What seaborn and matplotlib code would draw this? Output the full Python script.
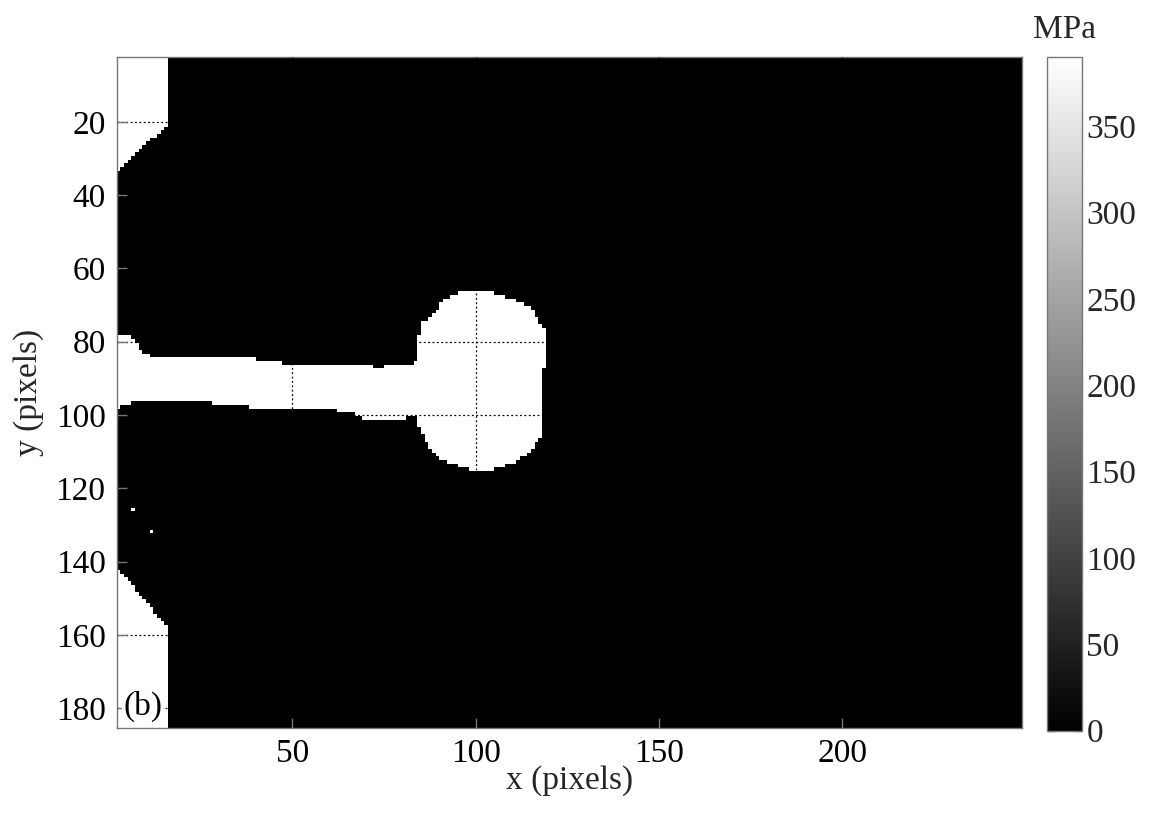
import numpy as np
import matplotlib
matplotlib.use("Agg")
import matplotlib.pyplot as plt
from matplotlib.path import Path
import seaborn as sns

# ---------------- data ----------------
# image extent in pixel coordinates
X_START, Y_START = 2.1, 2.3
N_COLS, N_ROWS = 247, 183
STRESS_HIGH = 390.0      # MPa value of the white (yielded) region
STRESS_LOW = 0.0
CBAR_MAX = 390.0

# boundary of the upper-left white region
top_left_x = [-1, 15.75, 15.75, 14.4, 13.9, 12.5, 11.2, 9.4, 2.1, -1]
top_left_y = [-1, -1, 20.9, 22.1, 23.6, 24.3, 24.8, 26.4, 33.6, 36.5]

# boundary of the lower-left white region
bottom_left_x = [-1, 2.1, 3.5, 4.8, 6.6, 8.0, 10.3, 12.1, 13.9, 15.75, 15.75, -1]
bottom_left_y = [141.0, 141.5, 143.2, 145.0, 146.4, 148.6, 150.9, 153.2, 155.9, 157.7, 190, 190]

# boundary of the crack (channel + blunted tip)
crack_x = [-1, 2.1, 5.7, 7.1, 8.0, 9.4, 11.2, 37.6, 40.3, 43.9, 48.5, 53.9, 66.7, 72.1,
           74.8, 77.6, 83.0, 83.9, 83.9, 84.4, 84.8, 85.7, 88.0, 89.4, 90.3, 93.0, 96.2,
           99.8, 103.0, 106.6, 111.2, 113.9, 116.2, 116.6, 118.5, 118.9, 119.2, 118.0,
           117.6, 118.0, 118.0, 118.3, 116.6, 114.4, 111.2, 107.5, 103.9, 100.3, 96.6,
           93.0, 89.4, 87.6, 85.7, 84.4, 84.4, 84.8, 81.6, 80.3, 70.3, 66.7, 61.2, 53.9,
           42.1, 38.5, 35.7, 24.8, 15.7, 11.2, 7.6, 4.8, 2.1, -1]
crack_y = [78.2, 78.2, 78.6, 79.5, 81.8, 82.7, 83.9, 84.1, 85.0, 85.4, 85.9, 86.1, 86.4, 86.8,
           86.8, 86.4, 86.1, 85.4, 81.3, 80.0, 75.9, 74.5, 73.2, 71.4, 69.5, 67.7, 66.4,
           66.4, 65.9, 67.3, 68.6, 70.0, 71.4, 73.6, 75.9, 79.5, 85.9, 89.5,
           93.2, 96.8, 101.4, 105.9, 107.7, 110.4, 112.7, 114.1, 115.0, 115.2, 114.5,
           113.2, 111.4, 109.5, 105.4, 103.2, 100.9, 100.0, 100.3, 101.4, 101.4, 99.5, 98.6, 98.4,
           98.6, 97.9, 97.3, 96.6, 96.6, 95.9, 96.4, 97.3, 98.2, 98.2]

# isolated white pixels
spot_x = [7.1, 12.1]
spot_y = [126.1, 132.0]

x_ticks = [50, 100, 150, 200]
y_ticks = [20, 40, 60, 80, 100, 120, 140, 160, 180]
cbar_ticks = [0, 50, 100, 150, 200, 250, 300, 350]
panel_label = "(b)"

# ---------------- build the stress field ----------------
xc = X_START + 0.5 + np.arange(N_COLS)
yc = Y_START + 0.5 + np.arange(N_ROWS)
XX, YY = np.meshgrid(xc, yc)
pts = np.column_stack([XX.ravel(), YY.ravel()])
mask = np.zeros(pts.shape[0], dtype=bool)
for px, py in [(top_left_x, top_left_y), (bottom_left_x, bottom_left_y), (crack_x, crack_y)]:
    mask |= Path(np.column_stack([px, py])).contains_points(pts)
mask = mask.reshape(N_ROWS, N_COLS)
for sx, sy in zip(spot_x, spot_y):
    j = int(np.argmin(np.abs(xc - sx)))
    i = int(np.argmin(np.abs(yc - sy)))
    mask[i, j] = True
field = np.where(mask, STRESS_HIGH, STRESS_LOW)

# ---------------- plot ----------------
sns.set_theme(style="white")
plt.rcParams["font.family"] = ["Liberation Serif", "DejaVu Serif"]
plt.rcParams["font.size"] = 24

W, H = 1150, 814
fig = plt.figure(figsize=(W / 100, H / 100), dpi=100)
ax = fig.add_axes([116.7 / W, 1 - 727.5 / H, (1022.3 - 116.7) / W, (727.5 - 57) / H])
cax = fig.add_axes([1046.7 / W, 1 - 730.7 / H, (1082.3 - 1046.7) / W, (730.7 - 57) / H])

sns.heatmap(field, ax=ax, cbar_ax=cax, cmap="gray", vmin=0, vmax=CBAR_MAX,
            xticklabels=False, yticklabels=False, rasterized=True)

ax.set_xlim(0, N_COLS)
ax.set_ylim(N_ROWS, 0)
ax.set_xticks([t - X_START for t in x_ticks])
ax.set_xticklabels([str(t) for t in x_ticks])
ax.set_yticks([t - Y_START for t in y_ticks])
ax.set_yticklabels([str(t) for t in y_ticks])
for s in ax.spines.values():
    s.set_visible(True)
    s.set_color("#777777")
    s.set_linewidth(1.0)
ax.tick_params(axis="both", direction="in", length=7, width=1, color="#777777",
               labelsize=24, labelcolor="black", bottom=True, left=True, pad=8)
ax.tick_params(axis="x", pad=8)
ax.grid(True, color="black", linestyle=(0, (1.5, 2)), linewidth=0.9)
ax.set_axisbelow(False)
ax.set_xlabel("x (pixels)", fontsize=24, labelpad=-3)
ax.set_ylabel("y (pixels)", fontsize=24, labelpad=8)
ax.text(0.007, 0.008, panel_label, transform=ax.transAxes, fontsize=24,
        ha="left", va="bottom", color="black", zorder=5,
        bbox=dict(facecolor="white", edgecolor="none", pad=0.5))

cbar = ax.collections[0].colorbar
cbar.outline.set_visible(True)
cbar.outline.set_linewidth(1.0)
cbar.outline.set_edgecolor("#777777")
cbar.set_ticks(cbar_ticks)
cbar.set_ticklabels([str(t) for t in cbar_ticks])
cax.tick_params(direction="in", length=6, width=1, color="#555555", left=True, right=True,
                labelleft=False, labelright=True, labelsize=24, pad=3)
cax.set_title("MPa", fontsize=24, pad=14)

fig.savefig("out.png", dpi=100)
